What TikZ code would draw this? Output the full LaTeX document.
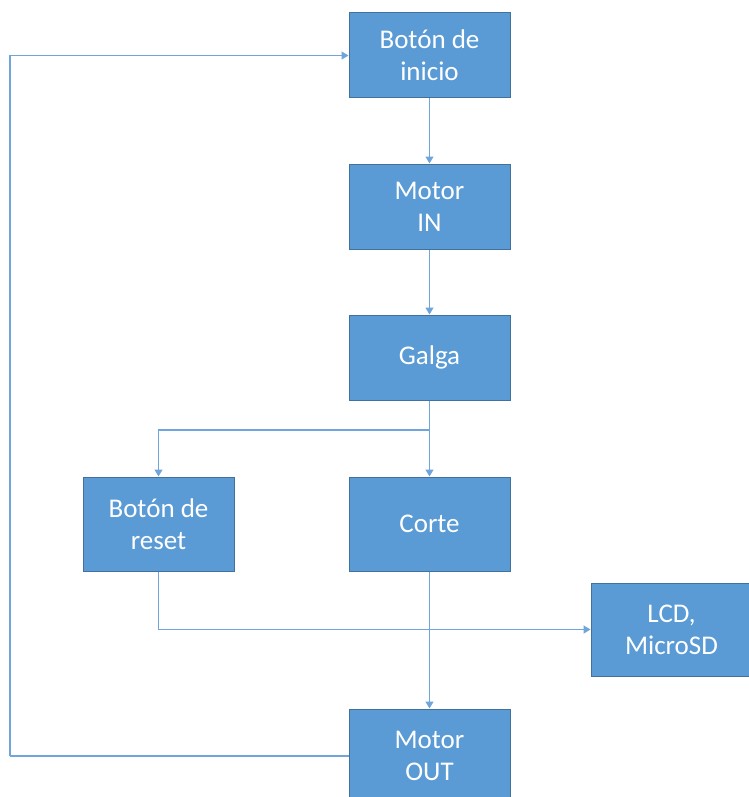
\documentclass[tikz,border=0pt]{standalone}
\usepackage{fontspec}
\setmainfont{Carlito}
\usetikzlibrary{arrows.meta}
\definecolor{boxblue}{HTML}{5B9BD5}
\definecolor{boxedge}{HTML}{41719C}
\definecolor{lineblue}{HTML}{6FA5DA}
\begin{document}
\begin{tikzpicture}[x=1pt,y=-1pt,->,>={Triangle[length=7pt,width=8pt]},line width=1.4pt,color=lineblue,block/.style={draw=boxedge,line width=1pt,fill=boxblue,text=white,minimum width=161pt,align=center,font=\fontsize{27}{32}\selectfont}]
                \useasboundingbox (0,0) rectangle (748,797);
                \node[block,minimum height=85pt] (inicio) at (429.5,55.5) {Botón de\\inicio};
                \node[block,minimum height=85pt] (motorin) at (429.5,206.5) {Motor\\IN};
                \node[block,minimum height=85pt] (galga) at (429.5,357.5) {Galga};
                \node[block,minimum height=94pt,minimum width=151pt] (reset) at (158.5,524) {Botón de\\reset};
                \node[block,minimum height=94pt] (corte) at (429.5,524) {Corte};
                \node[block,minimum height=93pt] (lcd) at (671.5,629.5) {LCD,\\MicroSD};
                \node[block,minimum height=94pt] (motorout) at (429.5,756) {Motor\\OUT};

                \coordinate (split) at (429.5,430);
                \coordinate (loop) at (10,756);

                \path
                    (inicio) edge (motorin)
                    (motorin) edge (galga)
                    (corte) edge (motorout)
                    ;

                \draw[-] (galga) -- (split);
                \draw (split) -- (corte);
                \draw (split) -| (reset);
                \draw (reset) |- (lcd);
                \draw[-] (motorout) -- (loop);
                \draw (loop) |- (inicio);
            \end{tikzpicture}
\end{document}
